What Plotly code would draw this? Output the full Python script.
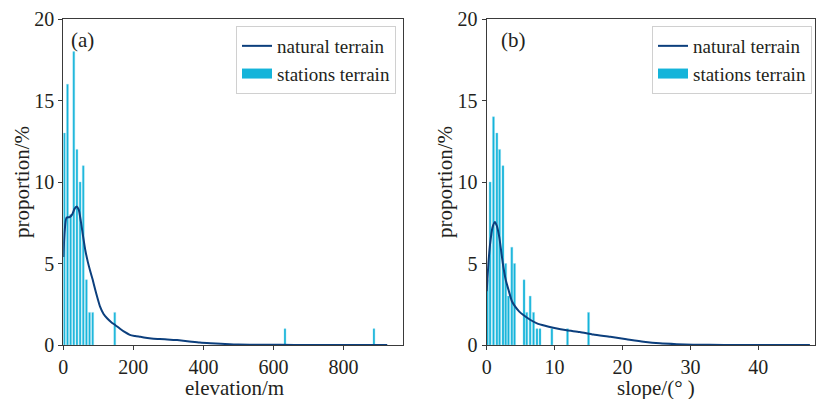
import plotly.graph_objects as go

# ---------------- data ----------------
# (a) elevation
elev_bar_x = [3, 12, 21, 30, 39, 48, 57, 66, 75, 84, 147, 633, 887]
elev_bar_y = [13, 16, 8, 18, 12, 10, 11, 4, 2, 2, 2, 1, 1]
elev_curve_x = [0, 4, 9, 18, 25, 32, 38, 44, 50, 57, 63, 70, 76, 84, 91, 98, 105, 115, 125,
                137, 148, 162, 175, 190, 205, 220, 240, 258, 290, 325, 360, 390, 420, 450,
                500, 560, 620, 700, 800, 925]
elev_curve_y = [5.4, 7.0, 7.8, 7.85, 8.0, 8.35, 8.5, 8.3, 7.6, 6.6, 5.8, 5.1, 4.6, 4.0, 3.4,
                2.85, 2.35, 1.9, 1.64, 1.4, 1.23, 1.0, 0.8, 0.62, 0.55, 0.5, 0.43, 0.38, 0.36,
                0.3, 0.22, 0.15, 0.11, 0.08, 0.03, 0.015, 0.01, 0.005, 0.003, 0.0]

# (b) slope
slope_bar_x = [0.1, 0.5, 1.0, 1.5, 1.9, 2.4, 2.8, 3.2, 3.7, 4.1, 5.5, 5.9, 6.4, 6.9, 7.4, 7.85,
               9.6, 11.9, 15.0]
slope_bar_y = [4, 10, 14, 13, 12, 11, 5, 3, 6, 5, 4, 2, 3, 2, 1, 1, 1, 1, 2]
slope_curve_x = [0, 0.25, 0.5, 0.85, 1.2, 1.5, 1.86, 2.15, 2.45, 2.8, 3.2, 3.7, 4.2, 4.8, 5.4,
                 6.4, 7.4, 8.6, 9.8, 11.8, 13.7, 15.7, 18.2, 20.6, 23.1, 25.5, 28, 30.4, 35,
                 40, 47.6]
slope_curve_y = [3.3, 5.0, 6.2, 7.2, 7.55, 7.3, 6.6, 5.7, 4.8, 4.0, 3.4, 2.7, 2.35, 2.05, 1.84,
                 1.55, 1.33, 1.18, 1.06, 0.9, 0.8, 0.64, 0.5, 0.35, 0.2, 0.1, 0.05, 0.02, 0.005,
                 0.002, 0.0]

x_ticks_a = [0, 200, 400, 600, 800]
x_ticks_b = [0, 10, 20, 30, 40]
y_ticks = [0, 5, 10, 15, 20]

LINE_C = "#0c3f7d"
BAR_C = "#14b4da"
FONT = "Liberation Serif, DejaVu Serif, serif"
TXT = "#231f20"
W, H = 818, 399

fig = go.Figure()

# panel (a)
fig.add_trace(go.Bar(x=elev_bar_x, y=elev_bar_y, width=5.5,
                     marker=dict(color=BAR_C, line=dict(color="#8ad8ee", width=0.4)),
                     showlegend=False, xaxis="x", yaxis="y"))
fig.add_trace(go.Scatter(x=elev_curve_x, y=elev_curve_y, mode="lines",
                         line=dict(color=LINE_C, width=2, shape="spline", smoothing=0.6),
                         name="natural terrain", legend="legend", xaxis="x", yaxis="y"))
fig.add_trace(go.Scatter(x=[None], y=[None], mode="lines", line=dict(color=BAR_C, width=10),
                         name="stations terrain", legend="legend", xaxis="x", yaxis="y"))

# panel (b)
fig.add_trace(go.Bar(x=slope_bar_x, y=slope_bar_y, width=0.3,
                     marker=dict(color=BAR_C, line=dict(color="#8ad8ee", width=0.4)),
                     showlegend=False, xaxis="x2", yaxis="y2"))
fig.add_trace(go.Scatter(x=slope_curve_x, y=slope_curve_y, mode="lines",
                         line=dict(color=LINE_C, width=2, shape="spline", smoothing=0.6),
                         name="natural terrain", legend="legend2", xaxis="x2", yaxis="y2"))
fig.add_trace(go.Scatter(x=[None], y=[None], mode="lines", line=dict(color=BAR_C, width=10),
                         name="stations terrain", legend="legend2", xaxis="x2", yaxis="y2"))

axis_common = dict(showline=True, linecolor="#3a3a3a", linewidth=1.3, mirror=True,
                   ticks="outside", ticklen=4, tickwidth=1.2, tickcolor="#3a3a3a",
                   showgrid=False, zeroline=False, automargin=False,
                   tickfont=dict(family=FONT, size=20, color=TXT))

ytop = 1 - 19 / H
ybot = 1 - 345 / H

legend_common = dict(yanchor="top", xanchor="right", bgcolor="white", bordercolor="#d0d0d0",
                     borderwidth=1, font=dict(family=FONT, size=19, color=TXT),
                     tracegroupgap=0, itemwidth=30)

fig.update_layout(
    width=W, height=H,
    margin=dict(l=0, r=0, t=0, b=0, autoexpand=False),
    paper_bgcolor="white", plot_bgcolor="white",
    barmode="overlay",
    font=dict(family=FONT, color=TXT),
    xaxis=dict(domain=[63.3 / W, 403 / W], range=[0, 970], tickvals=x_ticks_a, anchor="y", **axis_common),
    yaxis=dict(domain=[ybot, ytop], range=[0, 20], tickvals=y_ticks, anchor="x", **axis_common),
    xaxis2=dict(domain=[486.7 / W, 815 / W], range=[0, 48.35], tickvals=x_ticks_b, anchor="y2", **axis_common),
    yaxis2=dict(domain=[ybot, ytop], range=[0, 20], tickvals=y_ticks, anchor="x2", **axis_common),
    legend=dict(x=396 / W, y=1 - 26 / H, **legend_common),
    legend2=dict(x=812 / W, y=1 - 26 / H, **legend_common),
    annotations=[
        dict(text="(a)", x=69 / W, y=1 - 40 / H, xref="paper", yref="paper", xanchor="left", yanchor="middle",
             showarrow=False, font=dict(family=FONT, size=21, color=TXT)),
        dict(text="(b)", x=499 / W, y=1 - 40 / H, xref="paper", yref="paper", xanchor="left", yanchor="middle",
             showarrow=False, font=dict(family=FONT, size=21, color=TXT)),
        dict(text="elevation/m", x=234 / W, y=1 - 388 / H, xref="paper", yref="paper", xanchor="center", yanchor="middle",
             showarrow=False, font=dict(family=FONT, size=21, color=TXT)),
        dict(text="slope/(° )", x=656 / W, y=1 - 388 / H, xref="paper", yref="paper", xanchor="center", yanchor="middle",
             showarrow=False, font=dict(family=FONT, size=21, color=TXT)),
        dict(text="proportion/%", x=22 / W, y=1 - 182 / H, xref="paper", yref="paper", xanchor="center", yanchor="middle",
             textangle=-90, showarrow=False, font=dict(family=FONT, size=21, color=TXT)),
        dict(text="proportion/%", x=445 / W, y=1 - 182 / H, xref="paper", yref="paper", xanchor="center", yanchor="middle",
             textangle=-90, showarrow=False, font=dict(family=FONT, size=21, color=TXT)),
    ],
)

fig.write_html("out.html")
